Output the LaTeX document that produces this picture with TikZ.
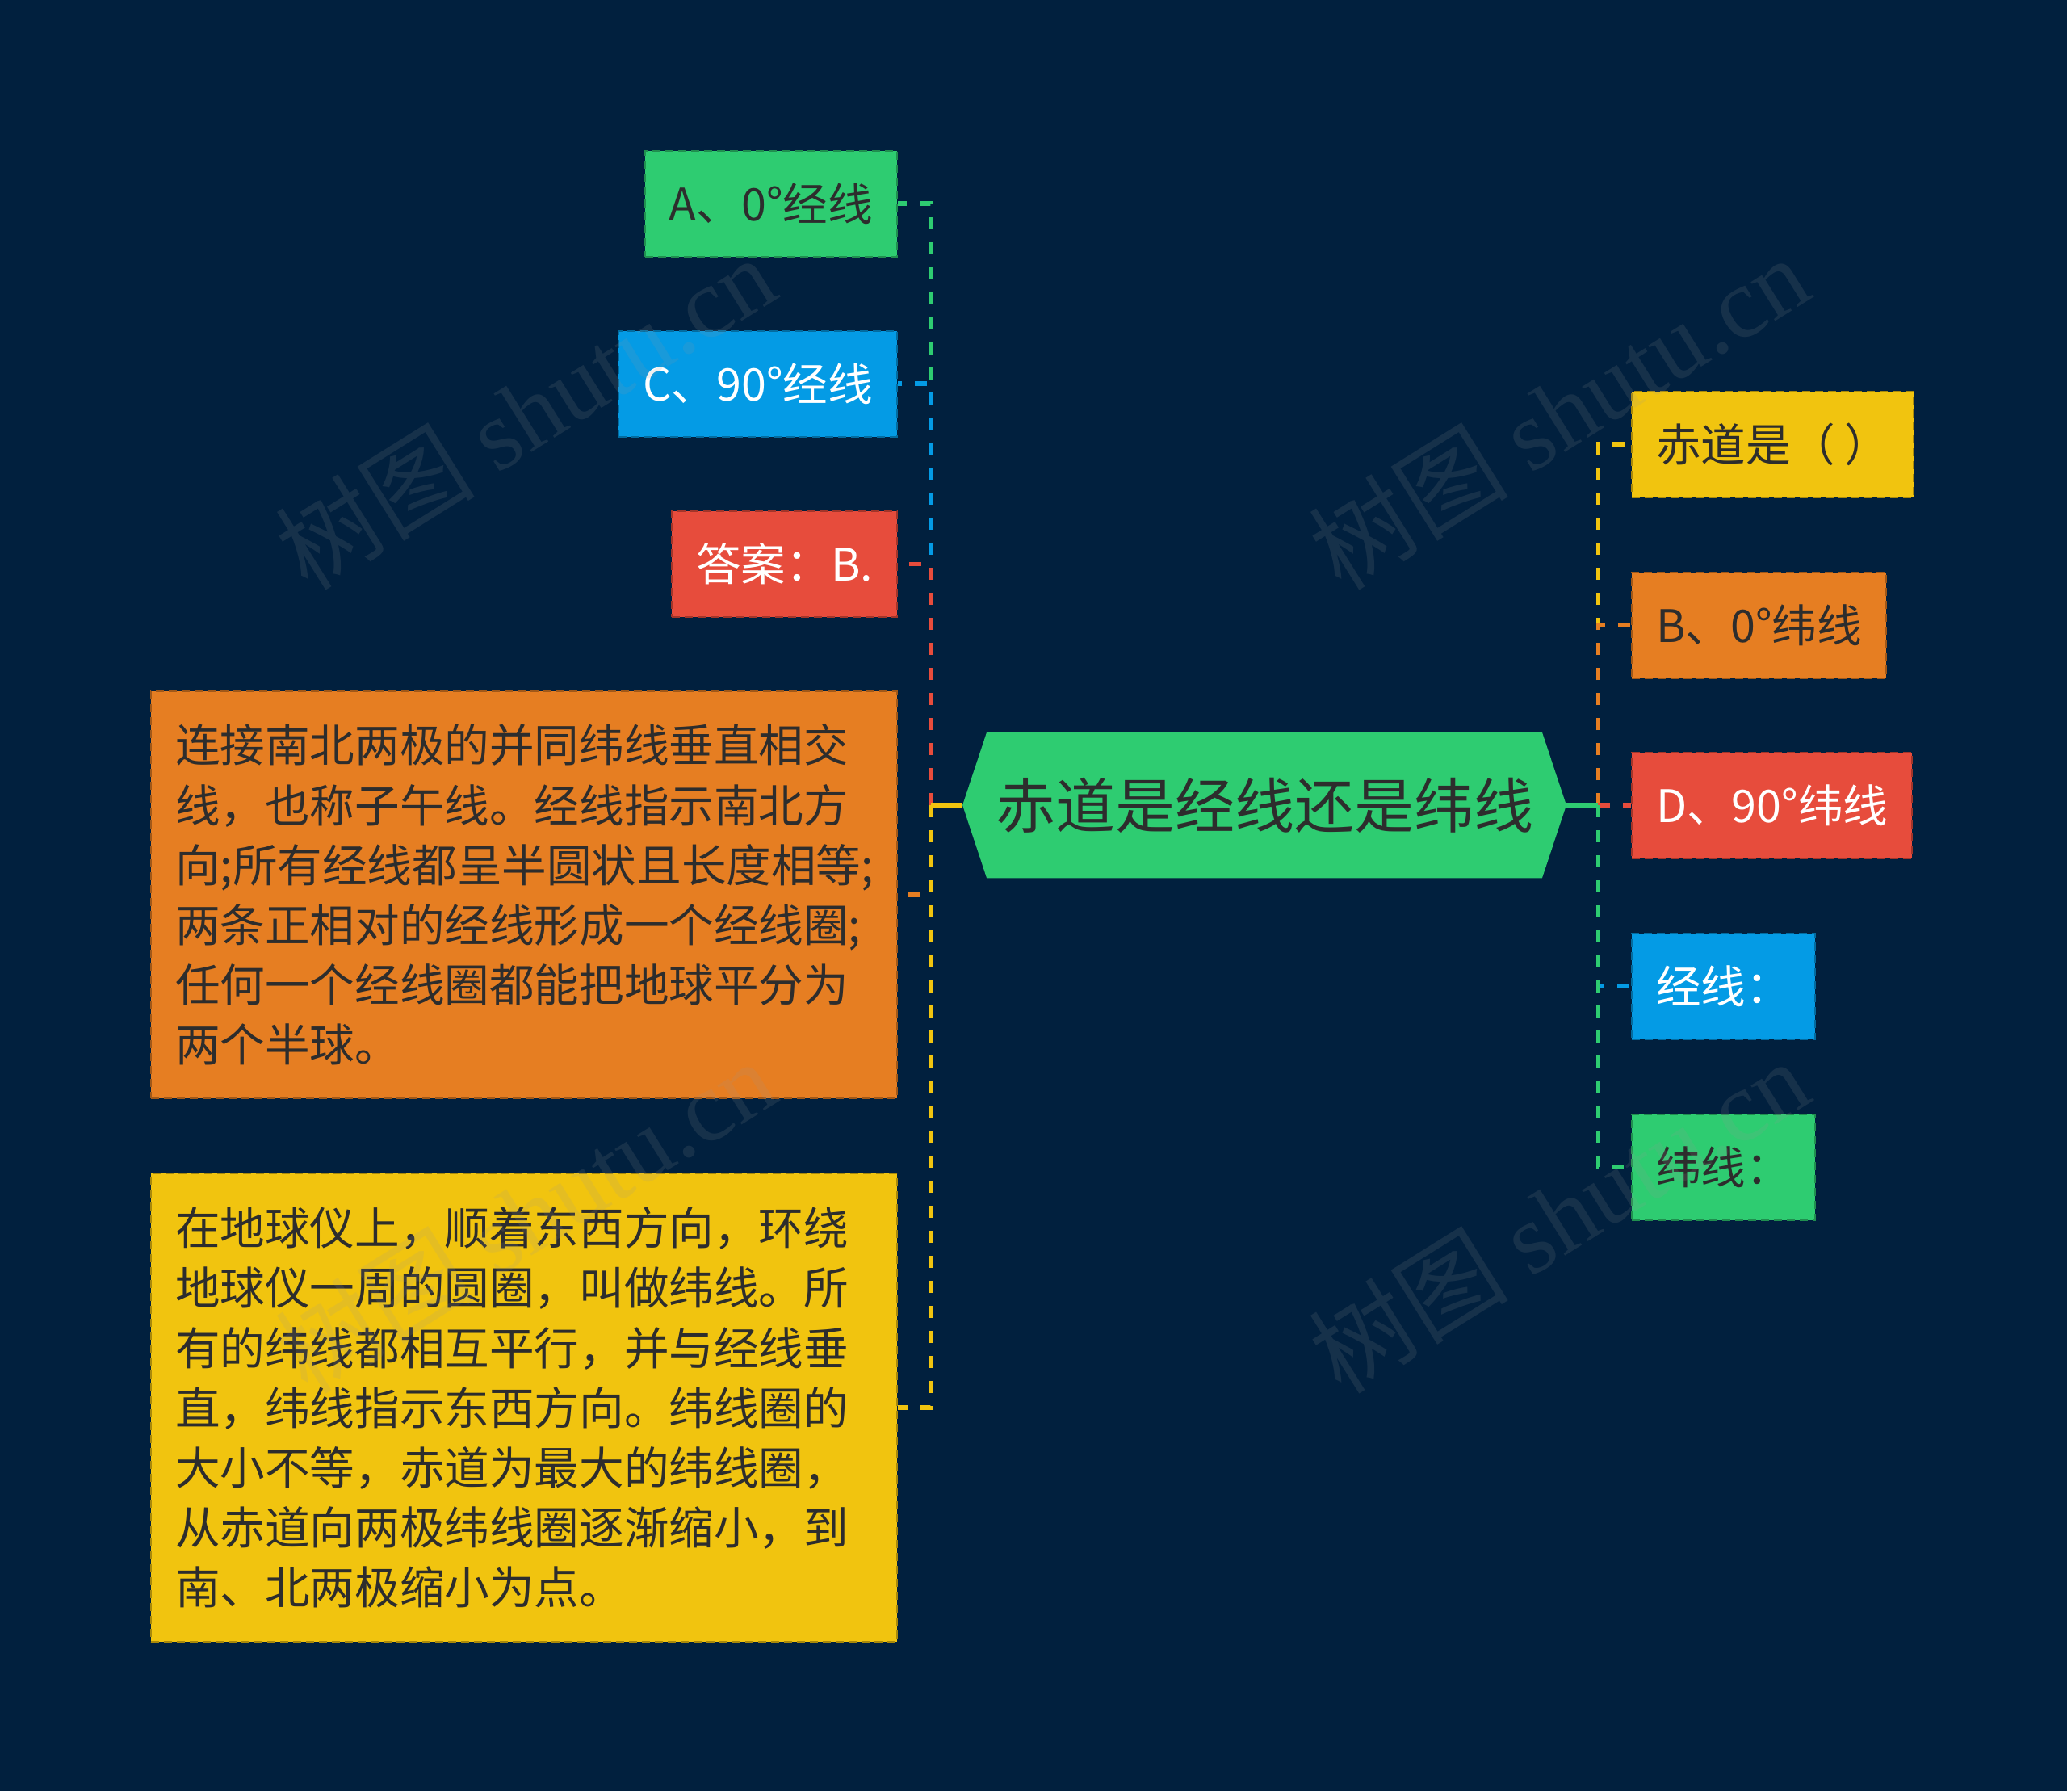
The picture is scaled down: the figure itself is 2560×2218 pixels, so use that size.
\documentclass[tikz,border=0pt]{standalone}
\usepackage{fontspec}
\setmainfont{Noto Sans CJK SC}
\newfontfamily\wmserif{Liberation Serif}
\usetikzlibrary{calc,backgrounds}
\definecolor{bg}{HTML}{01203E}
\definecolor{cG}{HTML}{2ECC71}
\definecolor{cB}{HTML}{049BE5}
\definecolor{cR}{HTML}{E74C3C}
\definecolor{cO}{HTML}{E67E22}
\definecolor{cY}{HTML}{F1C40F}
\definecolor{cDk}{HTML}{2D2D2D}
\tikzset{
  box/.style={rectangle, minimum height=65.5pt, inner xsep=15pt, inner ysep=0pt,
    font=\fontsize{27.8pt}{37.1pt}\selectfont, line width=1pt, dash pattern=on 5pt off 3pt},
  longbox/.style={box, text width=432pt, align=left, inner xsep=15pt},
  conn/.style={line width=2.8pt, dash pattern=on 7.5pt off 8pt},
  stub/.style={line width=2.8pt},
  wm/.style={font=\fontsize{62pt}{62pt}\selectfont, text=gray!80, text opacity=0.14, rotate=32, inner sep=0pt},
}
\begin{document}
\begin{tikzpicture}[x=0.5pt,y=-0.5pt]
\begin{scope}[on background layer]
\fill[bg] (0,0) rectangle (2560,2218);
\end{scope}
\useasboundingbox (0,0) rectangle (2560,2218);

% root
\node[minimum width=373.5pt, minimum height=90pt, inner sep=0pt, text=cDk,
  font=\fontsize{37pt}{44pt}\selectfont] (root) at (1566,997) {赤道是经线还是纬线};
\begin{scope}[on background layer]
\fill[cG] (root.west) -- ($(root.north west)+(30,0)$) -- ($(root.north east)+(-30,0)$)
  -- (root.east) -- ($(root.south east)+(-30,0)$) -- ($(root.south west)+(30,0)$) -- cycle;
\end{scope}

% left children
\node[box, fill=cG, draw=cG!70!black, text=cDk, anchor=east] (a) at (1112,252) {A、0°经线};
\node[box, fill=cB, draw=cB!70!black, text=white, anchor=east] (c) at (1112,475) {C、90°经线};
\node[box, fill=cR, draw=cR!70!black, text=white, anchor=east] (ans) at (1112,698.5) {答案：B.};
\node[longbox, fill=cO, draw=cO!70!black, text=cDk, anchor=east, minimum height=252pt] (o) at (1112,1108)
 {连接南北两极的并同纬线垂直相交\\线，也称子午线。经线指示南北方\\向;所有经线都呈半圆状且长度相等;\\两条正相对的经线形成一个经线圈;\\任何一个经线圈都能把地球平分为\\两个半球。};
\node[longbox, fill=cY, draw=cY!70!black, text=cDk, anchor=east, minimum height=290pt] (y) at (1112,1743)
 {在地球仪上，顺着东西方向，环绕\\地球仪一周的圆圈，叫做纬线。所\\有的纬线都相互平行，并与经线垂\\直，纬线指示东西方向。纬线圈的\\大小不等，赤道为最大的纬线圈，\\从赤道向两极纬线圈逐渐缩小，到\\南、北两极缩小为点。};

% right children
\node[box, fill=cY, draw=cY!70!black, text=cDk, anchor=west] (q) at (2020,550) {赤道是（\hspace{0.2em}）};
\node[box, fill=cO, draw=cO!70!black, text=cDk, anchor=west] (b) at (2020,774) {B、0°纬线};
\node[box, fill=cR, draw=cR!70!black, text=white, anchor=west] (d) at (2020,997) {D、90°纬线};
\node[box, fill=cB, draw=cB!70!black, text=white, anchor=west] (jx) at (2020,1221) {经线：};
\node[box, fill=cG, draw=cG!70!black, text=cDk, anchor=west] (wx) at (2020,1445) {纬线：};

% connectors left
\foreach \n/\c in {a/cG, c/cB, ans/cR, o/cO, y/cY}{
  \draw[conn, draw=\c] ($(root.west)+(-39.5,0)$) |- (\n.east);
  \draw[stub, draw=\c] (root.west) -- ++(-39.5,0);
}
% connectors right
\foreach \n/\c in {q/cY, b/cO, d/cR, jx/cB, wx/cG}{
  \draw[conn, draw=\c] ($(root.east)+(39.5,0)$) |- (\n.west);
  \draw[stub, draw=\c] (root.east) -- ++(39.5,0);
}

% watermarks
\node[wm] (w1) at (650,510) {树图 {\wmserif shutu.cn}};
\node[wm] (w2) at (1930,510) {树图 {\wmserif shutu.cn}};
\node[wm] (w3) at (650,1505) {树图 {\wmserif shutu.cn}};
\node[wm] (w4) at (1930,1505) {树图 {\wmserif shutu.cn}};
\end{tikzpicture}
\end{document}
